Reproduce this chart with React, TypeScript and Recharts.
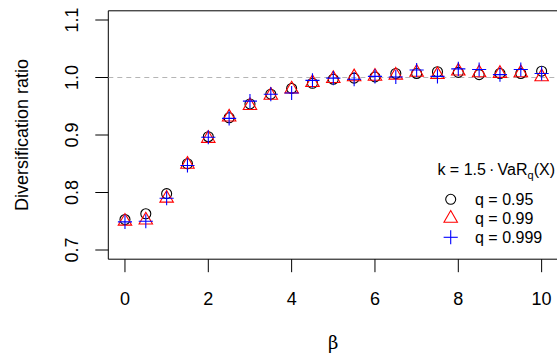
import React from 'react';
import {
  ScatterChart,
  Scatter,
  XAxis,
  YAxis,
  ReferenceArea,
  ReferenceLine,
  Legend,
} from 'recharts';

const betas = [0, 0.5, 1, 1.5, 2, 2.5, 3, 3.5, 4, 4.5, 5, 5.5, 6, 6.5, 7, 7.5, 8, 8.5, 9, 9.5, 10];
const q95 = [0.753, 0.763, 0.798, 0.85, 0.897, 0.93, 0.954, 0.971, 0.981, 0.99, 0.997, 0.999, 1.001, 1.007, 1.007, 1.01, 1.009, 1.005, 1.007, 1.007, 1.011];
const q99 = [0.75, 0.752, 0.79, 0.849, 0.894, 0.931, 0.951, 0.969, 0.98, 0.991, 0.998, 1.001, 1.002, 1.004, 1.009, 1.005, 1.011, 1.008, 1.007, 1.008, 1.001];
const q999 = [0.749, 0.75, 0.79, 0.847, 0.896, 0.929, 0.959, 0.971, 0.973, 0.995, 0.999, 0.997, 1.002, 1.001, 1.013, 1.002, 1.015, 1.014, 1.005, 1.014, 1.007];

const xTicks = [0, 2, 4, 6, 8, 10];
const yTicks = [0.7, 0.8, 0.9, 1.0, 1.1];
const legendLabels = ['q = 0.95', 'q = 0.99', 'q = 0.999'];

const X_DOMAIN: [number, number] = [-0.4, 10.4];
const Y_DOMAIN: [number, number] = [0.684, 1.116];
const R = 5;

const toPoints = (ys: number[]) => betas.map((b, i) => ({ beta: b, ratio: ys[i] }));

const CircleMark = ({ cx, cy }: any) => (
  <circle cx={cx} cy={cy} r={R} fill="none" stroke="#000" strokeWidth={1.1} />
);

const TriangleMark = ({ cx, cy }: any) => {
  const top = 1.555 * R;
  const half = 1.347 * R;
  const bot = 0.778 * R;
  return (
    <polygon
      points={`${cx},${cy - top} ${cx + half},${cy + bot} ${cx - half},${cy + bot}`}
      fill="none"
      stroke="#ff0000"
      strokeWidth={1.1}
    />
  );
};

const PlusMark = ({ cx, cy }: any) => {
  const a = 1.414 * R;
  return (
    <g stroke="#0000ff" strokeWidth={1.1}>
      <line x1={cx - a} y1={cy} x2={cx + a} y2={cy} />
      <line x1={cx} y1={cy - a} x2={cx} y2={cy + a} />
    </g>
  );
};

const XTick = ({ x, y, payload }: any) => (
  <text x={x} y={y + 33} textAnchor="middle" fontSize={18} fill="#000">
    {payload.value}
  </text>
);

const YTick = ({ x, y, payload }: any) => (
  <text
    x={x - 17}
    y={y}
    textAnchor="middle"
    fontSize={18}
    fill="#000"
    transform={`rotate(-90, ${x - 17}, ${y})`}
  >
    {Number(payload.value).toFixed(1)}
  </text>
);

const LegendBox = () => (
  <svg width={140} height={100} style={{ overflow: 'visible' }}>
    <text x={135} y={25} textAnchor="end" fontSize={16} fill="#000">
      {'k = 1.5\u2009·\u2009VaR'}
      <tspan fontSize={11} dy={4}>q</tspan>
      <tspan dy={-4}>(X)</tspan>
    </text>
    <CircleMark cx={30.7} cy={49.3} />
    <TriangleMark cx={30.7} cy={68.3} />
    <PlusMark cx={30.7} cy={87.3} />
    {legendLabels.map((l, i) => (
      <text key={l} x={55} y={49.3 + i * 19 + 6} fontSize={16} fill="#000">
        {l}
      </text>
    ))}
  </svg>
);

export default function App() {
  return (
    <div
      style={{
        position: 'absolute',
        left: 0,
        top: 0,
        width: 557,
        height: 355,
        overflow: 'hidden',
        background: '#fff',
        fontFamily: '"Liberation Sans", Arial, sans-serif',
      }}
    >
      <ScatterChart width={560} height={355} margin={{ top: 10.8, right: 1.7, bottom: 0, left: 0.3 }}>
        <XAxis
          type="number"
          dataKey="beta"
          domain={X_DOMAIN}
          ticks={xTicks}
          allowDataOverflow
          axisLine={false}
          tickLine={{ stroke: '#000' }}
          tickSize={13}
          tickMargin={0}
          height={95.8}
          tick={<XTick />}
          label={{
            content: ({ viewBox }: any) => (
              <text
                x={viewBox.x + viewBox.width / 2}
                y={349}
                textAnchor="middle"
                fontSize={18}
                fontFamily='"DejaVu Serif", "Liberation Serif", serif'
                fill="#000"
              >
                β
              </text>
            ),
          }}
        />
        <YAxis
          type="number"
          dataKey="ratio"
          domain={Y_DOMAIN}
          ticks={yTicks}
          allowDataOverflow
          axisLine={false}
          tickLine={{ stroke: '#000' }}
          tickSize={13}
          tickMargin={0}
          width={108}
          tick={<YTick />}
          label={{
            content: ({ viewBox }: any) => {
              const cy = viewBox.y + viewBox.height / 2;
              return (
                <text
                  x={28}
                  y={cy}
                  textAnchor="middle"
                  fontSize={18}
                  fill="#000"
                  transform={`rotate(-90, 28, ${cy})`}
                >
                  Diversification ratio
                </text>
              );
            },
          }}
        />
        <ReferenceArea
          x1={X_DOMAIN[0]}
          x2={X_DOMAIN[1]}
          y1={Y_DOMAIN[0]}
          y2={Y_DOMAIN[1]}
          fill="none"
          fillOpacity={0}
          stroke="#000"
          strokeWidth={1}
          ifOverflow="visible"
        />
        <ReferenceLine y={1} stroke="#b5b5b5" strokeDasharray="5 4" />
        <Scatter data={toPoints(q95)} shape={<CircleMark />} isAnimationActive={false} />
        <Scatter data={toPoints(q99)} shape={<TriangleMark />} isAnimationActive={false} />
        <Scatter data={toPoints(q999)} shape={<PlusMark />} isAnimationActive={false} />
        <Legend
          layout="vertical"
          align="center"
          verticalAlign="middle"
          content={() => <LegendBox />}
          wrapperStyle={{ position: 'absolute', left: 420, top: 150, width: 140, height: 100 }}
        />
      </ScatterChart>
    </div>
  );
}
